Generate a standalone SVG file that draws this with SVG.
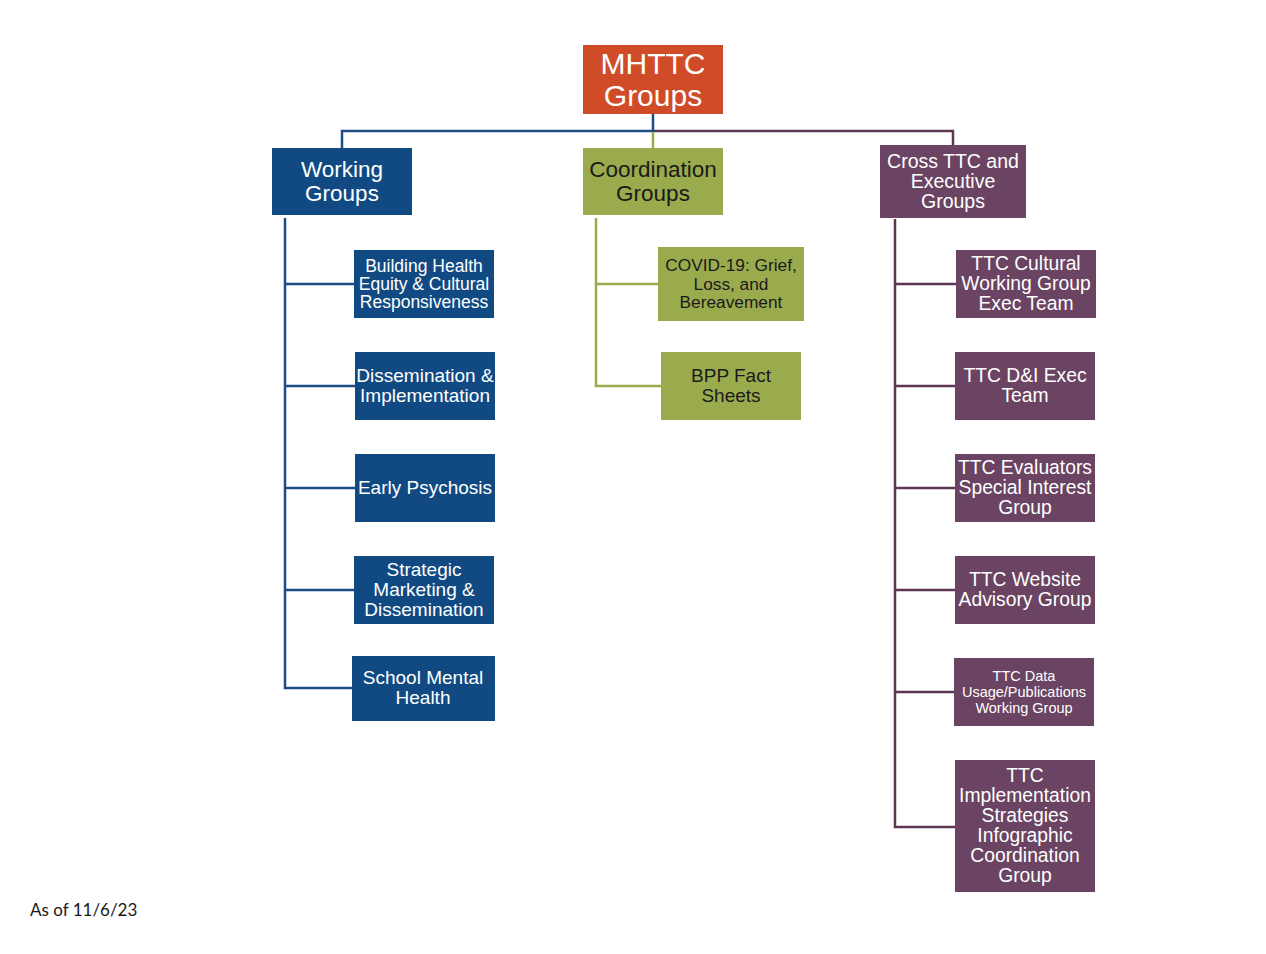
<svg xmlns="http://www.w3.org/2000/svg" width="1266" height="954" viewBox="0 0 1266 954">
<style>
text{font-family:"Liberation Sans",Arial,sans-serif;text-anchor:middle;}
.w{fill:#ffffff;}
.k{fill:#1a1a1a;}
.blue{fill:#114A82;}
.green{fill:#9AAB4E;}
.purple{fill:#6A4462;}
.orange{fill:#D04B28;}
.cb{stroke:#1E4D86;stroke-width:2.5;fill:none;}
.cg{stroke:#9AAB4E;stroke-width:2.5;fill:none;}
.cp{stroke:#5E3552;stroke-width:2.5;fill:none;}
</style>
<rect width="1266" height="954" fill="#ffffff"/>
<g id="connectors">
<path class="cp" d="M653 131H953V145"/>
<path class="cb" d="M653 114V131H342V148"/>
<path class="cg" d="M653 132V148"/>
<path class="cb" d="M285 218V688H352M285 284H354M285 386H355M285 488H355M285 590H354"/>
<path class="cg" d="M596 218V386H661M596 284H658"/>
<path class="cp" d="M895 219V827H955M895 284H956M895 386H955M895 488H955M895 590H955M895 692H954"/>
</g>
<g id="root">
<rect class="orange" x="583" y="45" width="140" height="69"/>
<text class="w" font-size="30" x="653" y="74">MHTTC</text>
<text class="w" font-size="30" x="653" y="106">Groups</text>
</g>
<g id="working-groups">
<rect class="blue" x="272" y="148" width="140" height="67"/>
<text class="w" font-size="22.5" x="342" y="177">Working</text>
<text class="w" font-size="22.5" x="342" y="201">Groups</text>
</g>
<g id="coordination-groups">
<rect class="green" x="583" y="148" width="140" height="67"/>
<text class="k" font-size="22.5" x="653" y="177">Coordination</text>
<text class="k" font-size="22.5" x="653" y="201">Groups</text>
</g>
<g id="cross-ttc">
<rect class="purple" x="880" y="145" width="146" height="73"/>
<text class="w" font-size="19.5" x="953" y="168">Cross TTC and</text>
<text class="w" font-size="19.5" x="953" y="188">Executive</text>
<text class="w" font-size="19.5" x="953" y="208">Groups</text>
</g>
<g id="building-health">
<rect class="blue" x="354" y="250" width="140" height="68"/>
<text class="w" font-size="17.5" x="424" y="272">Building Health</text>
<text class="w" font-size="17.5" x="424" y="290">Equity &amp; Cultural</text>
<text class="w" font-size="17.5" x="424" y="308">Responsiveness</text>
</g>
<g id="dissemination">
<rect class="blue" x="355" y="352" width="140" height="68"/>
<text class="w" font-size="19" x="425" y="382">Dissemination &amp;</text>
<text class="w" font-size="19" x="425" y="402">Implementation</text>
</g>
<g id="early-psychosis">
<rect class="blue" x="355" y="454" width="140" height="68"/>
<text class="w" font-size="19" x="425" y="494">Early Psychosis</text>
</g>
<g id="strategic-marketing">
<rect class="blue" x="354" y="556" width="140" height="68"/>
<text class="w" font-size="19" x="424" y="576">Strategic</text>
<text class="w" font-size="19" x="424" y="596">Marketing &amp;</text>
<text class="w" font-size="19" x="424" y="616">Dissemination</text>
</g>
<g id="school-mental-health">
<rect class="blue" x="352" y="656" width="143" height="65"/>
<text class="w" font-size="19" x="423" y="684">School Mental</text>
<text class="w" font-size="19" x="423" y="704">Health</text>
</g>
<g id="covid">
<rect class="green" x="658" y="247" width="146" height="74"/>
<text class="k" font-size="17.3" x="731" y="271">COVID-19: Grief,</text>
<text class="k" font-size="17.3" x="731" y="290">Loss, and</text>
<text class="k" font-size="17.3" x="731" y="308">Bereavement</text>
</g>
<g id="bpp">
<rect class="green" x="661" y="352" width="140" height="68"/>
<text class="k" font-size="19" x="731" y="382">BPP Fact</text>
<text class="k" font-size="19" x="731" y="402">Sheets</text>
</g>
<g id="ttc-cultural">
<rect class="purple" x="956" y="250" width="140" height="68"/>
<text class="w" font-size="19.3" x="1026" y="270">TTC Cultural</text>
<text class="w" font-size="19.3" x="1026" y="290">Working Group</text>
<text class="w" font-size="19.3" x="1026" y="310">Exec Team</text>
</g>
<g id="ttc-di">
<rect class="purple" x="955" y="352" width="140" height="68"/>
<text class="w" font-size="19.3" x="1025" y="382">TTC D&amp;I Exec</text>
<text class="w" font-size="19.3" x="1025" y="402">Team</text>
</g>
<g id="ttc-evaluators">
<rect class="purple" x="955" y="454" width="140" height="68"/>
<text class="w" font-size="19.3" x="1025" y="474">TTC Evaluators</text>
<text class="w" font-size="19.3" x="1025" y="494">Special Interest</text>
<text class="w" font-size="19.3" x="1025" y="514">Group</text>
</g>
<g id="ttc-website">
<rect class="purple" x="955" y="556" width="140" height="68"/>
<text class="w" font-size="19.3" x="1025" y="586">TTC Website</text>
<text class="w" font-size="19.3" x="1025" y="606">Advisory Group</text>
</g>
<g id="ttc-data">
<rect class="purple" x="954" y="658" width="140" height="68"/>
<text class="w" font-size="14.5" x="1024" y="681">TTC Data</text>
<text class="w" font-size="14.5" x="1024" y="697">Usage/Publications</text>
<text class="w" font-size="14.5" x="1024" y="713">Working Group</text>
</g>
<g id="ttc-implementation">
<rect class="purple" x="955" y="760" width="140" height="132"/>
<text class="w" font-size="19.3" x="1025" y="782">TTC</text>
<text class="w" font-size="19.3" x="1025" y="802">Implementation</text>
<text class="w" font-size="19.3" x="1025" y="822">Strategies</text>
<text class="w" font-size="19.3" x="1025" y="842">Infographic</text>
<text class="w" font-size="19.3" x="1025" y="862">Coordination</text>
<text class="w" font-size="19.3" x="1025" y="882">Group</text>
</g>
<text x="30" y="916" font-size="17" fill="#1a1a1a" style="font-family:Lato,'Open Sans',sans-serif;text-anchor:start">As of 11/6/23</text>
</svg>
